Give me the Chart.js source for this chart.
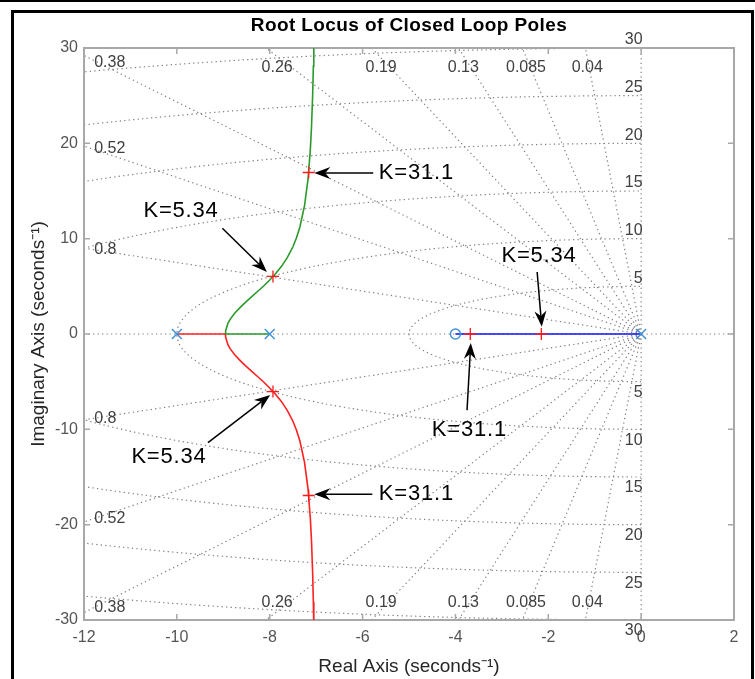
<!DOCTYPE html>
<html>
<head>
<meta charset="utf-8">
<script src="https://cdn.jsdelivr.net/npm/chart.js@4.4.1/dist/chart.umd.min.js"></script>
<style>
  html, body { margin: 0; padding: 0; background: #fff; }
</style>
</head>
<body>
<canvas id="rlocus" width="755" height="679"></canvas>
<script>
// axis ticks
const xTicks = [-12, -10, -8, -6, -4, -2, 0, 2];
const yTicks = [-30, -20, -10, 0, 10, 20, 30];

// open loop poles / zero
const poles = [{x: -10, y: 0}, {x: -8, y: 0}, {x: 0, y: 0}];
const zeros = [{x: -4, y: 0}];

// locus branches
const branchUp = [
  {x: -8, y: 0}, {x: -8.955, y: 0}, {x: -8.95, y: 0.32}, {x: -8.9, y: 1.12},
  {x: -8.85, y: 1.56}, {x: -8.75, y: 2.21}, {x: -8.625, y: 2.85}, {x: -8.5, y: 3.43},
  {x: -8.375, y: 3.97}, {x: -8.25, y: 4.51}, {x: -8.125, y: 5.06}, {x: -8, y: 5.66},
  {x: -7.875, y: 6.31}, {x: -7.75, y: 7.07}, {x: -7.625, y: 7.98}, {x: -7.5, y: 9.15},
  {x: -7.425, y: 10.06}, {x: -7.35, y: 11.22}, {x: -7.25, y: 13.47}, {x: -7.175, y: 16.25},
  {x: -7.125, y: 19.34}, {x: -7.1, y: 21.69}, {x: -7.075, y: 25.1}, {x: -7.06, y: 28.1},
  {x: -7.05, y: 30.8}
];
const branchDown = [
  {x: -10, y: 0}, {x: -8.955, y: 0}, {x: -8.95, y: -0.32}, {x: -8.9, y: -1.12},
  {x: -8.85, y: -1.56}, {x: -8.75, y: -2.21}, {x: -8.625, y: -2.85}, {x: -8.5, y: -3.43},
  {x: -8.375, y: -3.97}, {x: -8.25, y: -4.51}, {x: -8.125, y: -5.06}, {x: -8, y: -5.66},
  {x: -7.875, y: -6.31}, {x: -7.75, y: -7.07}, {x: -7.625, y: -7.98}, {x: -7.5, y: -9.15},
  {x: -7.425, y: -10.06}, {x: -7.35, y: -11.22}, {x: -7.25, y: -13.47}, {x: -7.175, y: -16.25},
  {x: -7.125, y: -19.34}, {x: -7.1, y: -21.69}, {x: -7.075, y: -25.1}, {x: -7.06, y: -28.1},
  {x: -7.05, y: -30.8}
];
const branchReal = [{x: -4, y: 0}, {x: 0, y: 0}];

// gains picked on the locus
const gainK = ['5.34', '31.1'];
const gainLow = [{x: -7.93, y: 6.04}, {x: -7.93, y: -6.04}, {x: -2.15, y: 0}];
const gainHigh = [{x: -7.16, y: 16.94}, {x: -7.16, y: -16.94}, {x: -3.68, y: 0}];

// sgrid: damping ratios and natural frequencies
const zetaValues = [0.04, 0.085, 0.13, 0.19, 0.26, 0.38, 0.52, 0.8];
const wnValues = [5, 10, 15, 20, 25, 30];

// label spots (x, y top, y bottom) for the damping labels
const zetaLabelAt = [
  [-1.16, 27.9, -28.2], [-2.48, 27.9, -28.2], [-3.83, 27.9, -28.2], [-5.6, 27.9, -28.2],
  [-7.84, 27.9, -28.2], [-11.78, 28.5, -28.7], [-11.78, 19.4, -19.4], [-11.78, 8.9, -8.9]
];

// callouts: which gain, text centre, arrow tail, arrow tip
const callouts = [
  {k: 1, tx: -4.84, ty: 16.9, x0: -5.77, y0: 16.9, x1: -7.04, y1: 16.9},
  {k: 0, tx: -9.91, ty: 12.9, x0: -9.02, y0: 11.1, x1: -8.06, y1: 6.5},
  {k: 0, tx: -2.2, ty: 8.2, x0: -2.24, y0: 6.5, x1: -2.14, y1: 0.75},
  {k: 1, tx: -3.7, ty: -10.1, x0: -3.75, y0: -8.0, x1: -3.67, y1: -0.95},
  {k: 0, tx: -10.17, ty: -12.9, x0: -9.33, y0: -11.4, x1: -7.99, y1: -6.4},
  {k: 1, tx: -4.84, ty: -16.8, x0: -5.79, y0: -16.8, x1: -7.04, y1: -16.8}
];

const FONT = "'Liberation Sans', Arial, Helvetica, sans-serif";

function drawArrow(ctx, x0, y0, x1, y1) {
  const ang = Math.atan2(y1 - y0, x1 - x0);
  const L = 16, W = 6, N = 11;
  ctx.beginPath();
  ctx.moveTo(x0, y0);
  ctx.lineTo(x1 - N * Math.cos(ang), y1 - N * Math.sin(ang));
  ctx.stroke();
  ctx.save();
  ctx.translate(x1, y1);
  ctx.rotate(ang);
  ctx.beginPath();
  ctx.moveTo(0, 0);
  ctx.lineTo(-L, -W);
  ctx.lineTo(-N, 0);
  ctx.lineTo(-L, W);
  ctx.closePath();
  ctx.fill();
  ctx.restore();
}

const sgridPlugin = {
  id: 'sgrid',
  beforeDraw(chart) {
    const ctx = chart.ctx;
    ctx.save();
    ctx.fillStyle = '#fff';
    ctx.fillRect(0, 0, chart.width, chart.height);
    ctx.fillStyle = '#000';
    ctx.fillRect(0, 0, chart.width, 2);
    ctx.fillRect(11, 10, 743, 3);
    ctx.fillRect(11, 10, 3, chart.height - 10);
    ctx.fillRect(751, 10, 3, chart.height - 10);
    // title
    const a = chart.chartArea;
    ctx.font = 'bold 19px ' + FONT;
    ctx.textAlign = 'center';
    ctx.textBaseline = 'middle';
    if ('letterSpacing' in ctx) ctx.letterSpacing = '0.4px';
    ctx.fillText('Root Locus of Closed Loop Poles', (a.left + a.right) / 2, 26);
    ctx.restore();
  },
  beforeDatasetsDraw(chart) {
    const {ctx, chartArea: a, scales: {x, y}} = chart;
    const ox = x.getPixelForValue(0), oy = y.getPixelForValue(0);
    ctx.save();
    ctx.beginPath();
    ctx.rect(a.left, a.top, a.right - a.left, a.bottom - a.top);
    ctx.clip();
    ctx.strokeStyle = '#808080';
    ctx.lineWidth = 1.2;
    ctx.setLineDash([1.3, 3.2]);
    ctx.beginPath();
    ctx.moveTo(a.left, oy); ctx.lineTo(a.right, oy);
    ctx.stroke();
    ctx.beginPath();
    ctx.moveTo(ox, oy); ctx.lineTo(ox, a.top);
    ctx.stroke();
    ctx.beginPath();
    ctx.moveTo(ox, oy); ctx.lineTo(ox, a.bottom);
    ctx.stroke();
    zetaValues.forEach(z => {
      const s = Math.sqrt(1 - z * z);
      [1, -1].forEach(sg => {
        ctx.beginPath();
        ctx.moveTo(ox, oy);
        ctx.lineTo(x.getPixelForValue(-z * 80), y.getPixelForValue(sg * s * 80));
        ctx.stroke();
      });
    });
    wnValues.forEach(w => {
      const rx = ox - x.getPixelForValue(-w);
      const ry = oy - y.getPixelForValue(w);
      ctx.beginPath();
      ctx.ellipse(ox, oy, rx, ry, 0, Math.PI / 2, Math.PI * 1.5);
      ctx.stroke();
    });
    ctx.restore();

    // grid labels
    ctx.save();
    ctx.fillStyle = '#404040';
    ctx.font = '16px ' + FONT;
    ctx.textBaseline = 'middle';
    zetaValues.forEach((z, i) => {
      const [lx, ly1, ly2] = zetaLabelAt[i];
      ctx.textAlign = lx < -11 ? 'left' : 'center';
      ctx.fillText(String(z), x.getPixelForValue(lx), y.getPixelForValue(ly1));
      ctx.fillText(String(z), x.getPixelForValue(lx), y.getPixelForValue(ly2));
    });
    ctx.textAlign = 'right';
    wnValues.forEach(w => {
      ctx.fillText(String(w), x.getPixelForValue(0.03), y.getPixelForValue(w + 0.85));
      ctx.fillText(String(w), x.getPixelForValue(0.03), y.getPixelForValue(-w - 1.15));
    });
    ctx.restore();

    // axes box with inward ticks
    ctx.save();
    ctx.strokeStyle = '#a8a8a8';
    ctx.lineWidth = 2;
    ctx.strokeRect(a.left, a.top, a.right - a.left, a.bottom - a.top);
    ctx.lineWidth = 1.5;
    ctx.beginPath();
    xTicks.forEach(v => {
      const px = x.getPixelForValue(v);
      ctx.moveTo(px, a.bottom); ctx.lineTo(px, a.bottom - 6);
      ctx.moveTo(px, a.top); ctx.lineTo(px, a.top + 6);
    });
    yTicks.forEach(v => {
      const py = y.getPixelForValue(v);
      ctx.moveTo(a.left, py); ctx.lineTo(a.left + 6, py);
      ctx.moveTo(a.right, py); ctx.lineTo(a.right - 6, py);
    });
    ctx.stroke();
    ctx.restore();
  },
  afterDatasetsDraw(chart) {
    const {ctx, scales: {x, y}} = chart;
    ctx.save();
    ctx.strokeStyle = '#000';
    ctx.fillStyle = '#000';
    ctx.lineWidth = 1.5;
    ctx.font = '22px ' + FONT;
    ctx.textAlign = 'center';
    ctx.textBaseline = 'middle';
    callouts.forEach(c => {
      drawArrow(ctx, x.getPixelForValue(c.x0), y.getPixelForValue(c.y0),
        x.getPixelForValue(c.x1), y.getPixelForValue(c.y1));
      if ('letterSpacing' in ctx) ctx.letterSpacing = '0.8px';
      ctx.fillText('K=' + gainK[c.k], x.getPixelForValue(c.tx), y.getPixelForValue(c.ty));
      if ('letterSpacing' in ctx) ctx.letterSpacing = '0px';
    });
    ctx.restore();
  }
};

const tickFont = {family: FONT, size: 16};

new Chart(document.getElementById('rlocus'), {
  type: 'scatter',
  data: {
    datasets: [
      {data: gainLow, pointStyle: 'cross', pointRadius: 6, borderColor: '#ff1a1a', borderWidth: 1.3},
      {data: gainHigh, pointStyle: 'cross', pointRadius: 6, borderColor: '#ff1a1a', borderWidth: 1.3},
      {data: poles, pointStyle: 'crossRot', pointRadius: 7, borderColor: '#4192d9', borderWidth: 1.5},
      {data: zeros, pointStyle: 'circle', pointRadius: 5, borderColor: '#4192d9',
        backgroundColor: 'rgba(0,0,0,0)', borderWidth: 1.5},
      {data: branchUp, showLine: true, pointRadius: 0, borderColor: '#2a9a2a', borderWidth: 1.6, tension: 0},
      {data: branchDown, showLine: true, pointRadius: 0, borderColor: '#ff2020', borderWidth: 1.6, tension: 0},
      {data: branchReal, showLine: true, pointRadius: 0, borderColor: '#1010ff', borderWidth: 1.6, tension: 0}
    ]
  },
  options: {
    responsive: false,
    animation: false,
    devicePixelRatio: 1,
    layout: {padding: {left: 14, right: 21, top: 48, bottom: 0}},
    plugins: {legend: {display: false}, tooltip: {enabled: false}, title: {display: false}},
    scales: {
      x: {
        type: 'linear', min: -12, max: 2,
        afterBuildTicks: s => { s.ticks = xTicks.map(v => ({value: v})); },
        afterFit: s => { s.height = 59; },
        grid: {display: false, drawTicks: false},
        border: {display: false},
        ticks: {color: '#555', font: tickFont, padding: 8, maxRotation: 0, autoSkip: false},
        title: {display: true, text: 'Real Axis (seconds\u207B\u00B9)', color: '#262626',
          font: {family: FONT, size: 19}, padding: {top: 0, bottom: 1}}
      },
      y: {
        type: 'linear', min: -30, max: 30,
        afterBuildTicks: s => { s.ticks = yTicks.map(v => ({value: v})); },
        afterFit: s => { s.width = 70; },
        grid: {display: false, drawTicks: false},
        border: {display: false},
        ticks: {color: '#555', font: tickFont, padding: 6, autoSkip: false},
        title: {display: true, text: 'Imaginary Axis (seconds\u207B\u00B9)', color: '#262626',
          font: {family: FONT, size: 19}, padding: {top: 13, bottom: 0}}
      }
    }
  },
  plugins: [sgridPlugin]
});
</script>
</body>
</html>
